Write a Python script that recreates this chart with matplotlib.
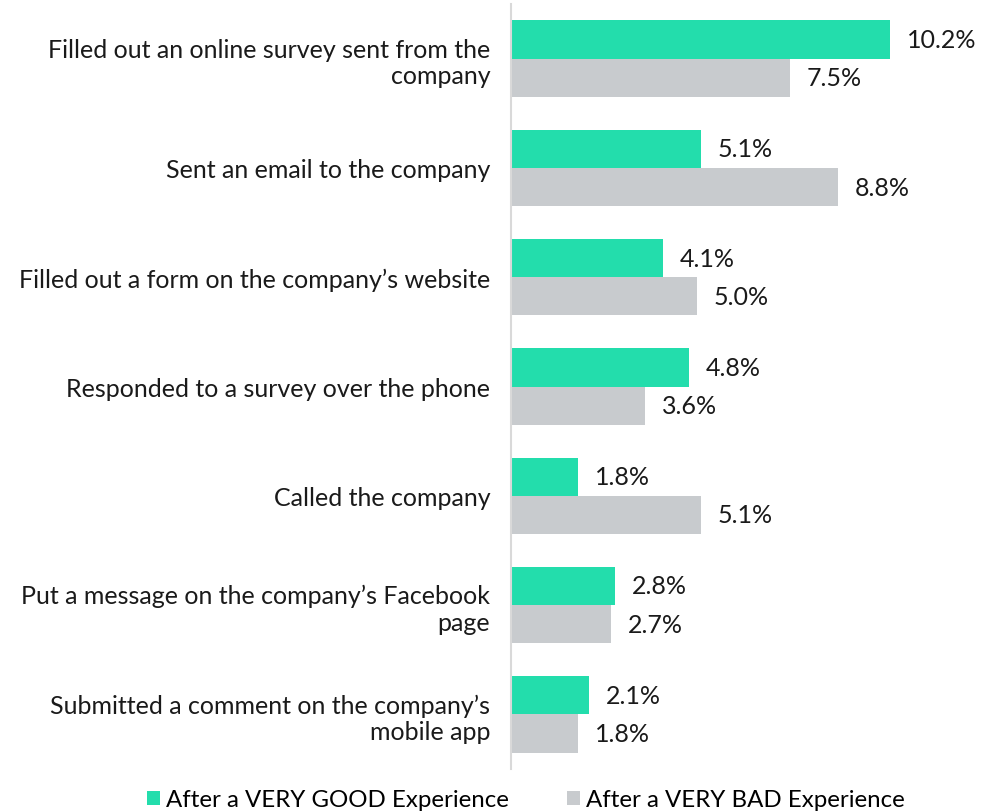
import matplotlib.pyplot as plt
import numpy as np

# Data
categories = [
    "Filled out an online survey sent from the\ncompany",
    "Sent an email to the company",
    "Filled out a form on the company\u2019s website",
    "Responded to a survey over the phone",
    "Called the company",
    "Put a message on the company\u2019s Facebook\npage",
    "Submitted a comment on the company\u2019s\nmobile app",
]
very_good = [10.2, 5.1, 4.1, 4.8, 1.8, 2.8, 2.1]
very_bad = [7.5, 8.8, 5.0, 3.6, 5.1, 2.7, 1.8]
series_names = ["After a VERY GOOD Experience", "After a VERY BAD Experience"]

green = "#23DDAC"
grey = "#C8CBCE"

plt.rcParams["font.family"] = ["Lato", "DejaVu Sans"]

fig = plt.figure(figsize=(9.9, 8.12), dpi=100)
ax = fig.add_axes([511 / 990, 42 / 812, 474 / 990, 765 / 812])

y = np.arange(len(categories))
h = 0.35
b1 = ax.barh(y - h / 2, very_good, height=h, color=green, label=series_names[0])
b2 = ax.barh(y + h / 2, very_bad, height=h, color=grey, label=series_names[1])

for bars, vals in [(b1, very_good), (b2, very_bad)]:
    for bar, v in zip(bars, vals):
        ax.text(v + 0.45, bar.get_y() + bar.get_height() / 2, f"{v:.1f}%",
                va="center", ha="left", fontsize=18, color="#1a1a1a")

ax.set_xlim(0, 12.75)
ax.set_ylim(len(categories) - 0.5, -0.5)
ax.set_yticks(y)
ax.set_yticklabels(categories, fontsize=18, color="#1a1a1a", ha="right")
ax.tick_params(axis="y", length=0, pad=15)
ax.set_xticks([])

for s in ["top", "right", "bottom"]:
    ax.spines[s].set_visible(False)
ax.spines["left"].set_color("#d9d9d9")
ax.spines["left"].set_linewidth(1.5)

fig.legend(handles=[b1, b2], labels=series_names, loc="lower center",
           bbox_to_anchor=(0.531, -0.026), ncol=2, frameon=False, fontsize=17.3,
           handlelength=0.55, handleheight=0.55, handletextpad=0.25,
           columnspacing=2.4)

fig.savefig("out.png", dpi=100)
